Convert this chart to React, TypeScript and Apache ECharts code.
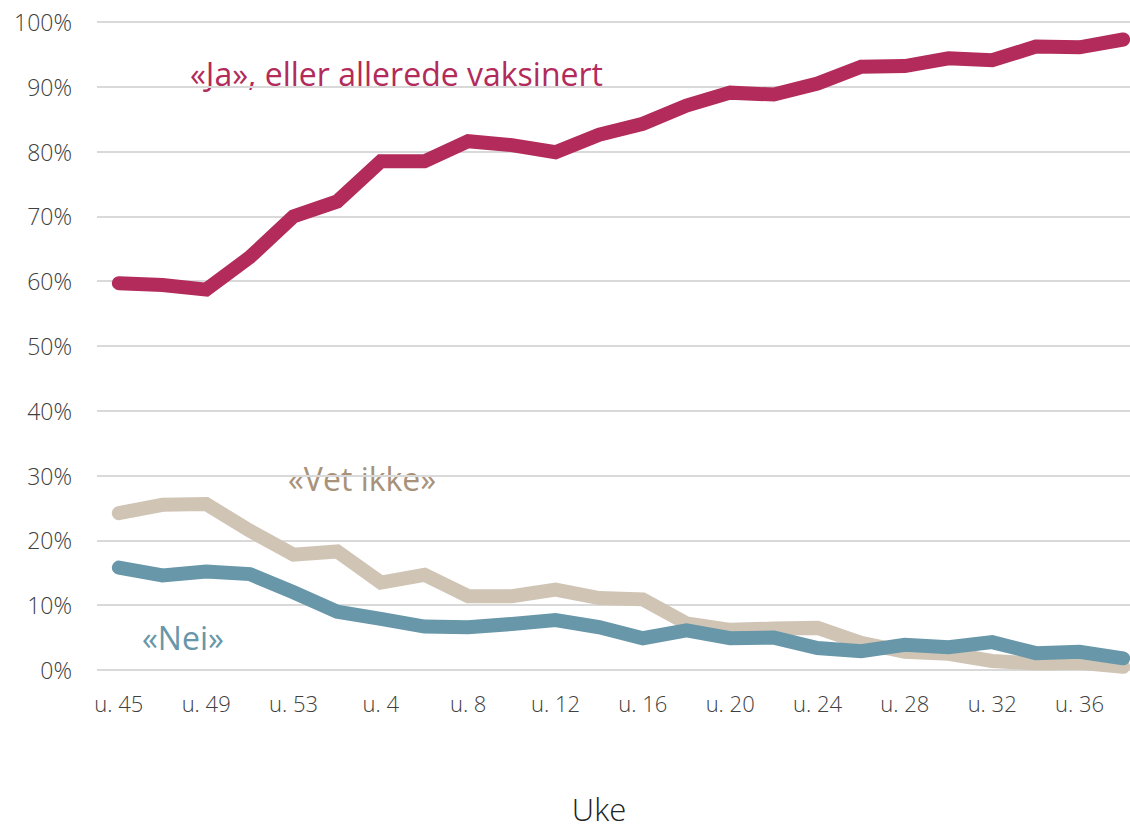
import React, { useEffect, useRef } from "react";
import * as echarts from "echarts";

const weeks = [
  "u. 45", "u. 47", "u. 49", "u. 51", "u. 53", "u. 2", "u. 4", "u. 6",
  "u. 8", "u. 10", "u. 12", "u. 14", "u. 16", "u. 18", "u. 20", "u. 22",
  "u. 24", "u. 26", "u. 28", "u. 30", "u. 32", "u. 34", "u. 36", "u. 38",
];

const jaValues = [
  59.7, 59.4, 58.7, 63.7, 70.0, 72.3, 78.5, 78.5, 81.6, 81.0, 79.9, 82.6,
  84.3, 87.1, 89.1, 88.8, 90.5, 93.1, 93.2, 94.4, 94.1, 96.2, 96.1, 97.3,
];

const vetIkkeValues = [
  24.2, 25.5, 25.6, 21.5, 17.8, 18.3, 13.5, 14.7, 11.4, 11.4, 12.4, 11.1,
  10.9, 7.2, 6.2, 6.4, 6.5, 4.2, 2.8, 2.5, 1.4, 1.0, 1.1, 0.5,
];

const neiValues = [
  15.8, 14.6, 15.2, 14.8, 12.0, 9.0, 7.9, 6.7, 6.6, 7.1, 7.7, 6.6,
  4.9, 6.1, 4.9, 5.0, 3.4, 2.9, 3.9, 3.5, 4.3, 2.6, 2.8, 1.8,
];

const seriesNames = ["«Ja», eller allerede vaksinert", "«Vet ikke»", "«Nei»"];
const axisTitle = "Uke";

export default function App() {
  const ref = useRef<HTMLDivElement>(null);

  useEffect(() => {
    if (!ref.current) return;
    const chart = echarts.init(ref.current, undefined, { renderer: "svg" });
    const font = "'Open Sans', 'Noto Sans', sans-serif";
    const lineBase = { cap: "round", join: "miter", width: 14 };
    chart.setOption({
      animation: false,
      backgroundColor: "#ffffff",
      grid: { left: 97, right: 5, top: 22, bottom: 162 },
      xAxis: {
        type: "category",
        data: weeks,
        boundaryGap: true,
        axisLine: { show: false },
        axisTick: { show: false },
        axisLabel: {
          interval: 1,
          color: "#404040",
          fontSize: 22,
          fontFamily: font,
          fontWeight: 300,
          margin: 22,
        },
      },
      yAxis: {
        type: "value",
        min: 0,
        max: 100,
        interval: 10,
        axisLine: { show: false },
        axisTick: { show: false },
        axisLabel: {
          formatter: "{value}%",
          color: "#404040",
          fontSize: 23,
          fontFamily: font,
          fontWeight: 300,
          margin: 25,
        },
        splitLine: { lineStyle: { color: "#d9d9d9", width: 2 } },
      },
      series: [
        {
          name: seriesNames[1],
          type: "line",
          data: vetIkkeValues,
          showSymbol: false,
          symbol: "none",
          lineStyle: { ...lineBase, color: "#d0c4b5" },
        },
        {
          name: seriesNames[2],
          type: "line",
          data: neiValues,
          showSymbol: false,
          symbol: "none",
          lineStyle: { ...lineBase, color: "#6797a8" },
        },
        {
          name: seriesNames[0],
          type: "line",
          data: jaValues,
          showSymbol: false,
          symbol: "none",
          lineStyle: { ...lineBase, color: "#b22b5a" },
        },
      ],
      graphic: [
        {
          type: "text",
          x: 190,
          y: 73,
          style: { text: seriesNames[0], fill: "#b22b5a", fontSize: 32, fontFamily: font, align: "left", verticalAlign: "middle" },
        },
        {
          type: "text",
          x: 288,
          y: 478,
          style: { text: seriesNames[1], fill: "#a8927a", fontSize: 32, fontFamily: font, align: "left", verticalAlign: "middle" },
        },
        {
          type: "text",
          x: 142,
          y: 637,
          style: { text: seriesNames[2], fill: "#6797a8", fontSize: 32, fontFamily: font, align: "left", verticalAlign: "middle" },
        },
        {
          type: "text",
          x: 599,
          y: 809,
          style: { text: axisTitle, fill: "#222222", fontSize: 31, lineHeight: 30, fontFamily: font, fontWeight: 300, align: "center", verticalAlign: "middle" },
        },
      ],
    });
    return () => chart.dispose();
  }, []);

  return (
    <div
      style={{ position: "absolute", left: 0, top: 0, width: 1130, height: 832, overflow: "hidden", background: "#ffffff" }}
    >
      <div ref={ref} style={{ position: "absolute", left: 0, top: 0, width: 1150, height: 832 }} />
    </div>
  );
}
